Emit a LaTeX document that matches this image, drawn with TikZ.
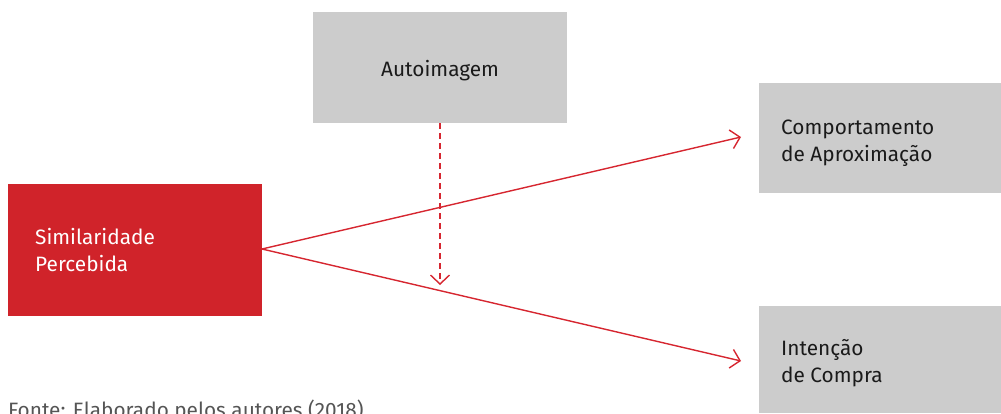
\documentclass[tikz,border=0pt]{standalone}
\usepackage{fontspec}
\setmainfont{Fira Sans}
\usetikzlibrary{arrows.meta}
\definecolor{boxred}{HTML}{D0232A}
\definecolor{boxgrey}{HTML}{CCCCCC}
\definecolor{linered}{HTML}{D62630}
\definecolor{txt}{HTML}{1A1A1A}
\definecolor{srcgrey}{HTML}{555555}
\begin{document}
\begin{tikzpicture}[x=1pt,y=-1pt,
  redbox/.style={fill=boxred,draw=none},
  greybox/.style={fill=boxgrey,draw=none},
  lbl/.style={anchor=base west,inner sep=0pt,font=\fontsize{20.8}{27}\selectfont,align=left},
  link/.style={draw=linered,line width=1.4pt,-{Straight Barb[length=9pt,width=19pt,line width=1.4pt]}},
  influence/.style={link,dash pattern=on 6pt off 4pt}]
\useasboundingbox (0,0) rectangle (1001,413);
\clip (0,0) rectangle (1001,413);
% boxes
\fill[redbox] (8,184) rectangle (262,316);
\fill[greybox] (313,12) rectangle (567,123);
\fill[greybox] (759,83) rectangle (1001,193);
\fill[greybox] (759,306) rectangle (1001,413);
% anchors for the connectors
\coordinate (sim) at (262,249);
\coordinate (auto) at (440,123);
\coordinate (comp) at (741,137);
\coordinate (int) at (741,361);
\coordinate (mod) at (440,285);
% labels (base anchor sits on the last line)
\node[lbl,text=white] (simlbl) at (35,271) {Similaridade\\Percebida};
\node[lbl,text=txt] (autolbl) at (381,76) {Autoimagem};
\node[lbl,text=txt] (complbl) at (781,161) {Comportamento\\de Aproximação};
\node[lbl,text=txt] (intlbl) at (781,382) {Intenção\\de Compra};
\node[lbl,text=srcgrey] (src) at (8,417) {Fonte: Elaborado pelos autores (2018)};
% connectors
\draw[link] (sim) -- (comp);
\draw[link] (sim) -- (int);
\draw[influence] (auto) -- (mod);
\end{tikzpicture}
\end{document}
